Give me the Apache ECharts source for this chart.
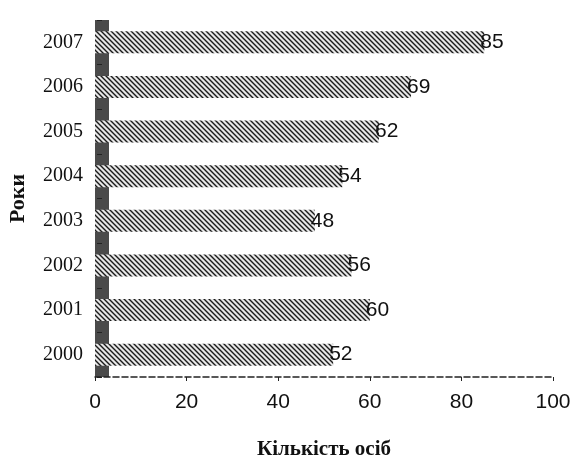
<!DOCTYPE html>
<html>
<head>
<meta charset="utf-8">
<script src="https://cdn.jsdelivr.net/npm/echarts@6/dist/echarts.min.js"></script>
<style>
  html, body { margin: 0; padding: 0; background: #fff; }
  #chart { width: 570px; height: 461px; }
</style>
</head>
<body>
<div id="chart"></div>
<script>
var years = ['2000', '2001', '2002', '2003', '2004', '2005', '2006', '2007']
var people = [52, 60, 56, 48, 54, 62, 69, 85]
var xTicks = [0, 20, 40, 60, 80, 100]

// hatched fill like the scanned bars
var pat = document.createElement('canvas')
pat.width = 5
pat.height = 5
var ctx = pat.getContext('2d')
ctx.fillStyle = '#e6e6e6'
ctx.fillRect(0, 0, 5, 5)
ctx.strokeStyle = '#1a1a1a'
ctx.lineWidth = 1.4
ctx.beginPath()
ctx.moveTo(0, 0); ctx.lineTo(5, 5)
ctx.moveTo(-2.5, 2.5); ctx.lineTo(2.5, 7.5)
ctx.moveTo(2.5, -2.5); ctx.lineTo(7.5, 2.5)
ctx.stroke()

var chart = echarts.init(document.getElementById('chart'))
chart.setOption({
  backgroundColor: '#fff',
  animation: false,
  grid: { left: 95, right: 17, top: 20, bottom: 84, outerBoundsMode: 'none', containLabel: false },
  xAxis: {
    type: 'value',
    min: xTicks[0],
    max: xTicks[xTicks.length - 1],
    interval: 20,
    name: 'Кількість осіб',
    nameLocation: 'middle',
    nameGap: 62,
    nameTextStyle: { fontFamily: 'Liberation Serif', fontWeight: 'bold', fontSize: 21, color: '#111' },
    axisLine: { show: true, lineStyle: { color: '#222', width: 1.5, type: 'dashed' } },
    axisTick: { show: true, length: 4, lineStyle: { color: '#222' } },
    splitLine: { show: false },
    axisLabel: { fontFamily: 'Liberation Sans', fontSize: 21, color: '#111', margin: 15 }
  },
  yAxis: {
    type: 'category',
    data: years,
    offset: -7,
    name: 'Роки',
    nameLocation: 'middle',
    nameGap: 73,
    nameTextStyle: { fontFamily: 'Liberation Serif', fontWeight: 'bold', fontSize: 22, color: '#111' },
    axisLine: { show: true, lineStyle: { color: '#4a4a4a', width: 14, cap: 'butt' } },
    axisTick: { show: true, length: 5, lineStyle: { color: '#222' } },
    axisLabel: { fontFamily: 'Liberation Serif', fontSize: 20, color: '#111', margin: 19, padding: [12, 0, 0, 0] }
  },
  series: [{
    type: 'bar',
    data: people,
    barWidth: 22,
    itemStyle: { color: { image: pat, repeat: 'repeat' } },
    label: {
      show: true,
      position: 'right',
      distance: -4,
      fontFamily: 'Liberation Sans',
      fontSize: 21,
      color: '#111'
    }
  }]
})
</script>
</body>
</html>
